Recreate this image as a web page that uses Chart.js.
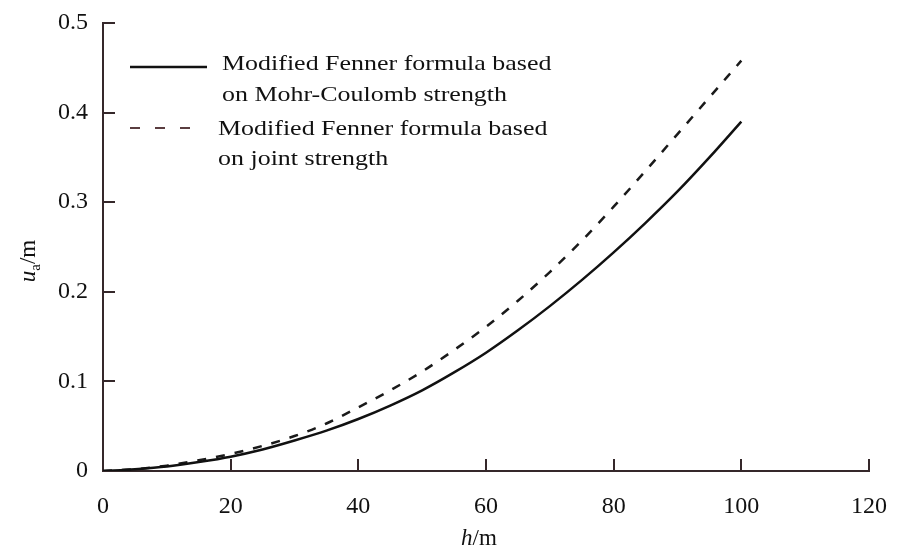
<!DOCTYPE html>
<html>
<head>
<meta charset="utf-8">
<script src="https://cdn.jsdelivr.net/npm/chart.js@4.4.1/dist/chart.umd.min.js"></script>
<style>
    html, body { margin: 0; padding: 0; background: #ffffff; }
    #wrap { width: 897px; height: 551px; position: relative; }
</style>
</head>
<body>
<div id="wrap"><canvas id="chart" width="897" height="551"></canvas></div>
<script>
// h (m) and displacement u_a (m)
const depths = [0, 5, 10, 15, 20, 25, 30, 35, 40, 45, 50, 55, 60, 65, 70, 75, 80, 85, 90, 95, 100];
const mohrCoulomb = [0, 0.002, 0.005, 0.010, 0.016, 0.024, 0.034, 0.045, 0.058, 0.073, 0.090, 0.110, 0.132, 0.157, 0.184, 0.213, 0.244, 0.277, 0.312, 0.350, 0.39];
const jointStrength = [0, 0.002, 0.006, 0.012, 0.019, 0.028, 0.039, 0.053, 0.071, 0.090, 0.111, 0.135, 0.161, 0.190, 0.222, 0.257, 0.295, 0.335, 0.376, 0.417, 0.458];
const seriesNames = [
    ['Modified Fenner formula based', 'on Mohr-Coulomb strength'],
    ['Modified Fenner formula based', 'on joint strength']
];
const xTicks = [0, 20, 40, 60, 80, 100, 120];
const yTicks = [0, 0.1, 0.2, 0.3, 0.4, 0.5];

const FONT = '"Liberation Serif", "DejaVu Serif", serif';
const AXIS = '#35282a';

// draw text stretched horizontally (the scanned figure has wide glyphs)
function wideText(ctx, str, x, y, sx) {
    ctx.save();
    ctx.translate(x, y);
    ctx.scale(sx, 1);
    ctx.fillText(str, 0, 0);
    ctx.restore();
}

// legend + axis titles drawn on the canvas
const decorPlugin = {
    id: 'decor',
    afterDraw(chart) {
        const ctx = chart.ctx;
        const area = chart.chartArea;
        ctx.save();
        ctx.fillStyle = '#111111';
        ctx.textBaseline = 'alphabetic';

        // legend
        const lx = area.left + 27;
        ctx.lineWidth = 2.5;
        ctx.strokeStyle = '#111111';
        ctx.beginPath(); ctx.moveTo(lx, 67); ctx.lineTo(lx + 77, 67); ctx.stroke();
        ctx.strokeStyle = '#5a3d40';
        ctx.lineWidth = 2;
        ctx.setLineDash([10, 15]);
        ctx.beginPath(); ctx.moveTo(lx, 128); ctx.lineTo(lx + 75, 128); ctx.stroke();
        ctx.setLineDash([]);

        ctx.font = '22px ' + FONT;
        ctx.textAlign = 'left';
        const st = 1.18;
        wideText(ctx, seriesNames[0][0], lx + 92, 70, st);
        wideText(ctx, seriesNames[0][1], lx + 92, 101, st);
        wideText(ctx, seriesNames[1][0], lx + 88, 135, st);
        wideText(ctx, seriesNames[1][1], lx + 88, 165, st);

        // x title: h/m
        const cx = (area.left + area.right) / 2 - 7;
        ctx.font = 'italic 23px ' + FONT;
        const hW = ctx.measureText('h').width;
        ctx.font = '23px ' + FONT;
        const mW = ctx.measureText('/m').width;
        let sx = cx - (hW + mW) / 2;
        ctx.font = 'italic 23px ' + FONT;
        ctx.fillText('h', sx, 545);
        ctx.font = '23px ' + FONT;
        ctx.fillText('/m', sx + hW, 545);

        // y title: u_a/m rotated
        ctx.translate(35, 261);
        ctx.rotate(-Math.PI / 2);
        ctx.font = 'italic 23px ' + FONT;
        const uW = ctx.measureText('u').width;
        ctx.font = '15px ' + FONT;
        const aW = ctx.measureText('a').width;
        ctx.font = '23px ' + FONT;
        const slW = ctx.measureText('/m').width;
        let ty = -(uW + aW + slW) / 2;
        ctx.font = 'italic 23px ' + FONT;
        ctx.fillText('u', ty, 0);
        ctx.font = '15px ' + FONT;
        ctx.fillText('a', ty + uW, 5);
        ctx.font = '23px ' + FONT;
        ctx.fillText('/m', ty + uW + aW, 0);
        ctx.restore();
    }
};

new Chart(document.getElementById('chart'), {
    type: 'line',
    data: {
        datasets: [
            {
                label: seriesNames[0].join(' '),
                data: depths.map((h, i) => ({ x: h, y: mohrCoulomb[i] })),
                borderColor: '#111111',
                borderWidth: 2.5,
                pointRadius: 0,
                cubicInterpolationMode: 'monotone',
                fill: false
            },
            {
                label: seriesNames[1].join(' '),
                data: depths.map((h, i) => ({ x: h, y: jointStrength[i] })),
                borderColor: '#1a1a1a',
                borderWidth: 2.5,
                borderDash: [9, 10],
                pointRadius: 0,
                cubicInterpolationMode: 'monotone',
                fill: false
            }
        ]
    },
    options: {
        responsive: false,
        animation: false,
        layout: { padding: { top: 23, right: 28, left: 0, bottom: 0 } },
        plugins: { legend: { display: false }, tooltip: { enabled: false } },
        scales: {
            x: {
                type: 'linear',
                min: 0,
                max: 120,
                afterBuildTicks: s => { s.ticks = xTicks.map(v => ({ value: v })); },
                afterFit: s => { s.height = 80; s.paddingLeft = 0; s.paddingRight = 0; },
                border: { display: true, color: AXIS, width: 2 },
                grid: { drawOnChartArea: false, drawTicks: true, tickLength: -12, color: AXIS, lineWidth: 2 },
                ticks: { color: '#111111', font: { family: FONT, size: 24 }, padding: 33, maxRotation: 0 }
            },
            y: {
                type: 'linear',
                min: 0,
                max: 0.5,
                afterBuildTicks: s => { s.ticks = yTicks.map(v => ({ value: v })); },
                afterFit: s => { s.width = 103; s.paddingTop = 0; s.paddingBottom = 0; },
                border: { display: true, color: AXIS, width: 2 },
                grid: { drawOnChartArea: false, drawTicks: true, tickLength: -12, color: AXIS, lineWidth: 2 },
                ticks: { color: '#111111', font: { family: FONT, size: 24 }, padding: 27, callback: v => String(v) }
            }
        }
    },
    plugins: [decorPlugin]
});
</script>
</body>
</html>
